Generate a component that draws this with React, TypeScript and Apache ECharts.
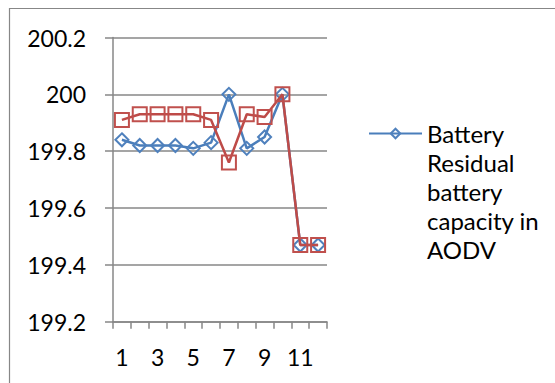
import React, { useEffect, useRef } from "react";
import * as echarts from "echarts";

// Node index along the x axis
const nodes = ["1", "2", "3", "4", "5", "6", "7", "8", "9", "10", "11", "12"];

// Residual battery capacity per node
const batteryBlue = [199.84, 199.82, 199.82, 199.82, 199.81, 199.83, 200.0, 199.81, 199.85, 200.0, 199.47, 199.47];
const batteryRed = [199.91, 199.93, 199.93, 199.93, 199.93, 199.91, 199.76, 199.93, 199.92, 200.0, 199.47, 199.47];

// Legend label, one entry per wrapped line
const legendLines = ["Battery", "Residual", "battery", "capacity in", "AODV"];
const legendName = legendLines.join(" ");
const secondName = "AODV";

const FONT = "Lato, 'Liberation Sans', sans-serif";
const GRAY = "#878787";

export default function App() {
  const ref = useRef<HTMLDivElement>(null);

  useEffect(() => {
    if (!ref.current) return;
    const chart = echarts.init(ref.current, null, { renderer: "svg" });
    chart.setOption({
      animation: false,
      backgroundColor: "#ffffff",
      textStyle: { fontFamily: FONT, color: "#000" },
      graphic: [
        {
          type: "rect",
          shape: { x: 9.5, y: 8.5, width: 700, height: 500 },
          style: { fill: "none", stroke: GRAY, lineWidth: 1.2 },
          silent: true,
        },
      ],
      grid: { left: 113, right: 228, top: 37.5, bottom: 61.3 },
      legend: {
        data: [legendName],
        left: 368,
        top: 3,
        padding: 0,
        itemWidth: 53,
        itemHeight: 12,
        // blank lines above keep the marker level with the first line of text
        formatter: () => "\n\n\n\n" + legendLines.join("\n"),
        textStyle: {
          fontFamily: FONT,
          fontSize: 24,
          color: "#000",
          lineHeight: 29,
        },
      },
      xAxis: {
        type: "category",
        data: nodes,
        boundaryGap: true,
        axisLine: { lineStyle: { color: GRAY, width: 1.5 } },
        axisTick: { show: true, interval: 0, length: 7, lineStyle: { color: GRAY, width: 1.5 } },
        axisLabel: { interval: 1, margin: 24, fontSize: 23, fontFamily: FONT, color: "#000" },
        splitLine: { show: false },
      },
      yAxis: {
        type: "value",
        min: 199.2,
        max: 200.2,
        interval: 0.2,
        axisLine: { show: true, lineStyle: { color: GRAY, width: 1.5 } },
        axisTick: { show: true, length: 8, lineStyle: { color: GRAY, width: 1.5 } },
        axisLabel: { margin: 27, fontSize: 23, fontFamily: FONT, color: "#000" },
        splitLine: { show: true, lineStyle: { color: GRAY, width: 1.5 } },
      },
      series: [
        {
          name: legendName,
          type: "line",
          data: batteryBlue,
          symbol: "diamond",
          symbolSize: 13,
          showAllSymbol: true,
          lineStyle: { color: "#4A7EBB", width: 2.5 },
          itemStyle: { color: "rgba(255,255,255,0)", borderColor: "#4F81BD", borderWidth: 2 },
          z: 2,
        },
        {
          name: secondName,
          type: "line",
          data: batteryRed,
          symbol: "rect",
          symbolSize: 14,
          showAllSymbol: true,
          lineStyle: { color: "#BE4B48", width: 2.5 },
          itemStyle: { color: "rgba(255,255,255,0)", borderColor: "#C0504D", borderWidth: 2 },
          z: 3,
        },
      ],
    });
    return () => chart.dispose();
  }, []);

  return (
    <div style={{ position: "fixed", left: 0, top: 0, width: 555, height: 383, background: "#fff" }}>
      <div ref={ref} style={{ width: 555, height: 383 }} />
    </div>
  );
}
